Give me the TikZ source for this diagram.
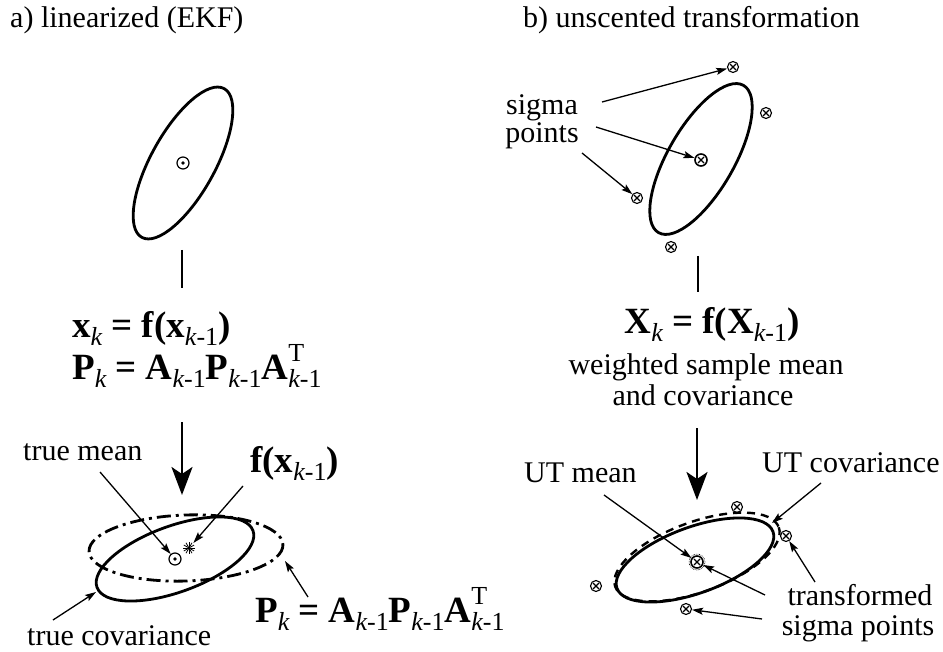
\documentclass[tikz,border=0pt]{standalone}
\usepackage{fontspec}
\setmainfont{Liberation Serif}
\usetikzlibrary{arrows.meta}
\newcommand{\fm}{\fontsize{37}{40}\selectfont\bfseries}
\newcommand{\lo}[1]{\raisebox{-8pt}{\fontsize{26}{26}\selectfont\mdseries #1}}
\newcommand{\kk}{\lo{\itshape k}}
\newcommand{\kmo}{\lo{\itshape k\upshape -1}}
\newcommand{\kmoT}{\rlap{\raisebox{18pt}{\fontsize{26}{26}\selectfont\mdseries T}}\kmo}
\begin{document}
\begin{tikzpicture}[x=1pt,y=-1pt,
  font=\fontsize{30}{32}\selectfont,
  ell/.style={line width=2.8pt},
  dashdotline/.style={line width=2.8pt,dash pattern=on 14pt off 5pt on 3pt off 5pt},
  dashline/.style={line width=2.4pt,dash pattern=on 8pt off 6pt},
  seg/.style={line width=2.6pt},
  arr/.style={line width=1.3pt,-{Stealth[length=11pt,width=7pt,inset=2pt]}},
  bigarr/.style={line width=2.6pt,-{Stealth[length=28pt,width=21pt,inset=7pt]}},
  txt/.style={inner sep=0pt,anchor=base west},
  txtc/.style={inner sep=0pt,anchor=base},
  sig/.style={circle,draw,line width=1.1pt,minimum size=11pt,inner sep=0pt,
    path picture={\draw[line width=1.1pt]
      ([shift={(-3pt,-3pt)}]path picture bounding box.center) -- ([shift={(3pt,3pt)}]path picture bounding box.center)
      ([shift={(-3pt,3pt)}]path picture bounding box.center) -- ([shift={(3pt,-3pt)}]path picture bounding box.center);}},
  sigbold/.style={sig,line width=1.6pt,minimum size=12pt},
  dotm/.style={circle,draw,line width=1.2pt,minimum size=12pt,inner sep=0pt,
    path picture={\fill (path picture bounding box.center) circle (1.8pt);}},
  starm/.style={circle,minimum size=13pt,inner sep=0pt,
    path picture={\foreach \a in {0,30,...,150}{\draw[line width=0.8pt]
      ([shift={(\a:6pt)}]path picture bounding box.center) -- ([shift={(\a+180:6pt)}]path picture bounding box.center);}}}
]
\useasboundingbox (0,0) rectangle (943,652);

% headers
\node[txt] (ta) at (10,28) {a) linearized (EKF)};
\node[txt] (tb) at (523,28) {b) unscented transformation};

% ---------- left: EKF ----------
\draw[ell, rotate around={61:(183,163)}] (183,163) ellipse [x radius=85,y radius=32];
\node[dotm] (m0) at (183,163) {};
\coordinate (l1a) at (182,250); \coordinate (l1b) at (182,288);
\draw[seg] (l1a) -- (l1b);
\node[txt] (f1) at (72,338) {\fm x\kk{} = f(x\kmo)};
\node[txt] (f2) at (72,380) {\fm P\kk{} = A\kmo P\kmo A\kmoT};
\coordinate (a1s) at (182,422); \coordinate (a1e) at (182,495);
\draw[bigarr] (a1s) -- (a1e);

\draw[ell, rotate around={20:(175,559)}] (175,559) ellipse [x radius=83,y radius=33];
\draw[dashdotline, rotate around={2:(186,548)}] (186,548) ellipse [x radius=97,y radius=33];
\node[dotm] (tm) at (175,559) {};
\node[starm] (fx) at (189,548) {};

\node[txt] (ltm) at (23,460) {true mean};
\node[txt] (lfx) at (250,472) {\fm f(x\kmo)};
\node[txt] (ltc) at (27,645) {true covariance};
\node[txt] (lP) at (255,622) {\fm P\kk{} = A\kmo P\kmo A\kmoT};

\coordinate (c1) at (100,472); \draw[arr] (c1) -- (tm);
\coordinate (c2) at (243,486); \draw[arr] (c2) -- (fx);
\coordinate (c3) at (53,620); \coordinate (c3e) at (96,592); \draw[arr] (c3) -- (c3e);
\coordinate (c4) at (308,597); \coordinate (c4e) at (285,561); \draw[arr] (c4) -- (c4e);

% ---------- right: UT ----------
\draw[ell, rotate around={60:(701,159)}] (701,159) ellipse [x radius=85,y radius=33];
\node[sigbold] (s0) at (701,160) {};
\node[sig] (s1) at (733,67) {};
\node[sig] (s2) at (766,113) {};
\node[sig] (s3) at (637,198) {};
\node[sig] (s4) at (671,247) {};
\node[txtc] (ls1) at (542,115) {sigma};
\node[txtc] (ls2) at (542,143) {points};
\coordinate (d1) at (602,102); \draw[arr] (d1) -- (s1);
\coordinate (d2) at (596,127); \draw[arr] (d2) -- (s0);
\coordinate (d3) at (582,153); \draw[arr] (d3) -- (s3);

\coordinate (r1a) at (698,256); \coordinate (r1b) at (698,292);
\draw[seg] (r1a) -- (r1b);
\node[txtc] (fX) at (712,334) {\fm X\kk{} = f(X\kmo)};
\node[txtc] (w1) at (706,374) {weighted sample mean};
\node[txtc] (w2) at (703,406) {and covariance};
\coordinate (a2s) at (697,428); \coordinate (a2e) at (697,500);
\draw[bigarr] (a2s) -- (a2e);

\draw[ell, rotate around={20:(695,560)}] (695,560) ellipse [x radius=83,y radius=33];
\draw[dashline, rotate around={20:(697,557)}] (697,557) ellipse [x radius=87,y radius=35];
\draw[line width=0.6pt,dash pattern=on 0.7pt off 0.9pt] (697,562) circle (8pt);
\node[sigbold] (u0) at (697,562) {};
\node[sig] (u1) at (737,507) {};
\node[sig] (u2) at (786,536) {};
\node[sig] (u3) at (596,586) {};
\node[sig] (u4) at (686,609) {};

\node[txt] (lum) at (524,482) {UT mean};
\node[txt] (luc) at (762,472) {UT covariance};
\node[txtc] (lt1) at (860,605) {transformed};
\node[txtc] (lt2) at (858,635) {sigma points};

\coordinate (e1) at (604,495); \draw[arr] (e1) -- (u0);
\coordinate (e2) at (821,483); \coordinate (e2e) at (772,523); \draw[arr] (e2) -- (e2e);
\coordinate (e3) at (765,595); \draw[arr] (e3) -- (u0);
\coordinate (e4) at (815,582); \draw[arr] (e4) -- (u2);
\coordinate (e5) at (762,619); \draw[arr] (e5) -- (u4);
\end{tikzpicture}
\end{document}
